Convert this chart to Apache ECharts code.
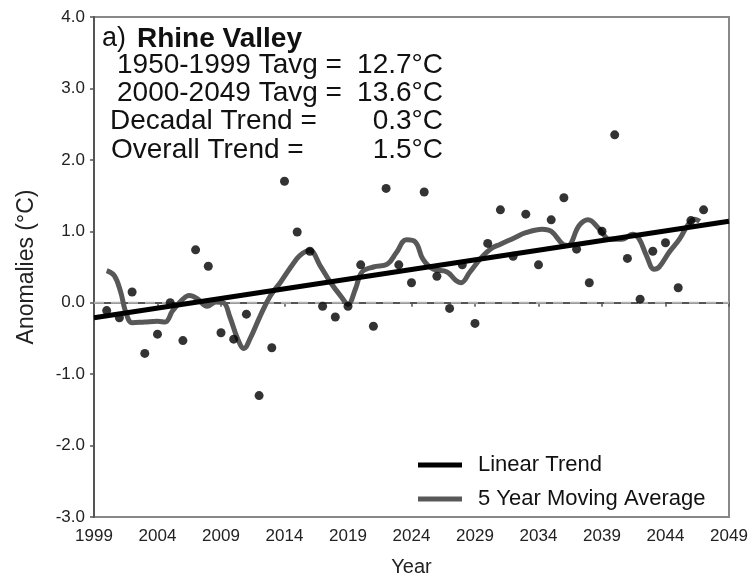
<!DOCTYPE html>
<html>
<head>
<meta charset="utf-8">
<script src="https://cdn.jsdelivr.net/npm/echarts@6/dist/echarts.min.js"></script>
<style>
  html, body { margin: 0; padding: 0; background: #fff; }
  #chart { width: 751px; height: 577px; }
</style>
</head>
<body>
<div id="chart"></div>
<script>
// Annual temperature anomalies, Rhine Valley, 2000-2047
const BASE_YEAR = 1999;
const years = [2000, 2001, 2002, 2003, 2004, 2005, 2006, 2007, 2008, 2009,
               2010, 2011, 2012, 2013, 2014, 2015, 2016, 2017, 2018, 2019,
               2020, 2021, 2022, 2023, 2024, 2025, 2026, 2027, 2028, 2029,
               2030, 2031, 2032, 2033, 2034, 2035, 2036, 2037, 2038, 2039,
               2040, 2041, 2042, 2043, 2044, 2045, 2046, 2047];
const anomalies = [-0.11, -0.21, 0.15, -0.71, -0.44, 0.00, -0.53, 0.74, 0.51, -0.42,
                   -0.51, -0.16, -1.30, -0.63, 1.70, 0.99, 0.72, -0.05, -0.20, -0.05,
                    0.53, -0.33, 1.60, 0.53, 0.28, 1.55, 0.37, -0.08, 0.53, -0.29,
                    0.83, 1.30, 0.65, 1.24, 0.53, 1.16, 1.47, 0.75, 0.28, 1.00,
                    2.35, 0.62, 0.05, 0.72, 0.84, 0.21, 1.15, 1.30];

// 5 year moving average (smoothed curve)
const maYears = [2000.0, 2000.6, 2001.1, 2001.5, 2002.0, 2003.0, 2004.0, 2004.6, 2005.2, 2006.0,
                 2006.5, 2007.1, 2007.9, 2008.6, 2009.2, 2009.7, 2010.3, 2010.8, 2011.3, 2012.1,
                 2012.9, 2013.7, 2014.5, 2015.2, 2016.0, 2016.8, 2017.6, 2018.4, 2019.0, 2019.6,
                 2020.1, 2021.0, 2022.1, 2022.8, 2023.6, 2024.3, 2024.9, 2025.7, 2026.8, 2027.5,
                 2027.9, 2028.6, 2029.4, 2030.2, 2031.0, 2032.0, 2033.0, 2034.3, 2035.0, 2035.9,
                 2036.3, 2037.2, 2037.9, 2038.8, 2039.6, 2040.6, 2041.4, 2041.9, 2042.5, 2043.1,
                 2043.5, 2044.3, 2045.1, 2045.8, 2046.3, 2046.7];
const maValues = [0.45, 0.38, 0.15, -0.13, -0.28, -0.27, -0.26, -0.27, -0.11, 0.05,
                  0.10, 0.06, -0.05, 0.01, 0.00, -0.20, -0.50, -0.64, -0.50, -0.18,
                  0.10, 0.29, 0.50, 0.66, 0.73, 0.52, 0.29, 0.10, -0.02, 0.20,
                  0.43, 0.50, 0.54, 0.70, 0.88, 0.85, 0.61, 0.47, 0.43, 0.31,
                  0.28, 0.43, 0.61, 0.75, 0.82, 0.90, 0.98, 1.03, 1.00, 0.82,
                  0.80, 1.08, 1.16, 1.03, 0.89, 0.89, 0.96, 0.90, 0.66, 0.47,
                  0.50, 0.71, 0.89, 1.10, 1.17, 1.14];

// Linear trend end points
const trendYears = [1999, 2049];
const trendValues = [-0.21, 1.14];

// Annotation lines
const panelTag = 'a)';
const panelTitle = 'Rhine Valley';
const statLabels = ['1950-1999 Tavg =', '2000-2049 Tavg =', 'Decadal Trend =', 'Overall Trend ='];
const statValues = ['12.7°C', '13.6°C', '0.3°C', '1.5°C'];

const FONT = '"Liberation Sans", Arial, sans-serif';
const pair = (xs, ys) => xs.map((x, i) => [x - BASE_YEAR, ys[i]]);

const statGraphics = [];
const statLeft = [117, 117, 110, 111];
statLabels.forEach((t, i) => {
  const y = 65 + i * 28.3;
  statGraphics.push({
    type: 'text', x: statLeft[i], y: y, silent: true,
    style: { text: t, font: '28px ' + FONT, fill: '#111', textAlign: 'left', textVerticalAlign: 'middle' }
  });
  statGraphics.push({
    type: 'text', x: 443, y: y, silent: true,
    style: { text: statValues[i], font: '28px ' + FONT, fill: '#111', textAlign: 'right', textVerticalAlign: 'middle' }
  });
});

const chart = echarts.init(document.getElementById('chart'), null, { renderer: 'canvas' });
chart.setOption({
  animation: false,
  backgroundColor: '#fff',
  grid: {
    left: 94, right: 22, top: 17, bottom: 60,
    outerBoundsMode: 'none', containLabel: false,
    show: true, borderColor: '#888', borderWidth: 2, backgroundColor: 'transparent'
  },
  xAxis: {
    type: 'value', min: 0, max: trendYears[1] - BASE_YEAR, interval: 5,
    name: 'Year', nameLocation: 'middle', nameGap: 40,
    nameTextStyle: { fontFamily: FONT, fontSize: 20, color: '#222' },
    axisLine: { lineStyle: { color: '#555', width: 2 } },
    axisTick: { show: true, length: 4, lineStyle: { color: '#555', width: 1.5 } },
    axisLabel: { formatter: v => String(v + BASE_YEAR), fontFamily: FONT, fontSize: 17, color: '#222', margin: 11 },
    splitLine: { show: false }
  },
  yAxis: {
    type: 'value', min: -3, max: 4, interval: 1,
    name: 'Anomalies (°C)', nameLocation: 'middle', nameGap: 56,
    nameTextStyle: { fontFamily: FONT, fontSize: 23, color: '#222' },
    axisLine: { show: true, lineStyle: { color: '#555', width: 2 } },
    axisTick: { show: true, length: 4, lineStyle: { color: '#555', width: 1.5 } },
    axisLabel: { formatter: v => v.toFixed(1), fontFamily: FONT, fontSize: 17, color: '#222', margin: 9 },
    splitLine: { show: false }
  },
  legend: {
    orient: 'vertical', left: 413, top: 449,
    data: ['Linear Trend', '5 Year Moving Average'],
    icon: 'rect', itemWidth: 44, itemHeight: 5, itemGap: 12,
    textStyle: { fontFamily: FONT, fontSize: 22, color: '#111', padding: [0, 0, 0, 11] },
    selectedMode: false
  },
  graphic: [
    {
      type: 'text', x: 102, y: 39, silent: true,
      style: { text: panelTag, font: '27px ' + FONT, fill: '#111', textAlign: 'left', textVerticalAlign: 'middle' }
    },
    {
      type: 'text', x: 137, y: 39, silent: true,
      style: { text: panelTitle, font: 'bold 28px ' + FONT, fill: '#111', textAlign: 'left', textVerticalAlign: 'middle' }
    }
  ].concat(statGraphics),
  series: [
    {
      name: 'zero', type: 'line', data: [[0, 0], [trendYears[1] - BASE_YEAR, 0]],
      silent: true, showSymbol: false, symbol: 'none',
      lineStyle: { color: '#b3b3b3', type: [10, 7], width: 2 }, z: 2
    },
    {
      name: '5 Year Moving Average', type: 'line', smooth: 0.4,
      data: pair(maYears, maValues), showSymbol: false, symbol: 'none',
      lineStyle: { color: '#585858', width: 5 }, itemStyle: { color: '#585858' }, z: 3
    },
    {
      name: 'Linear Trend', type: 'line',
      data: pair(trendYears, trendValues), showSymbol: false, symbol: 'none',
      lineStyle: { color: '#000', width: 5 }, itemStyle: { color: '#000' }, z: 4
    },
    {
      name: 'Annual', type: 'scatter', data: pair(years, anomalies),
      symbol: 'circle', symbolSize: 9, itemStyle: { color: '#000' }, z: 5
    }
  ]
});
</script>
</body>
</html>
